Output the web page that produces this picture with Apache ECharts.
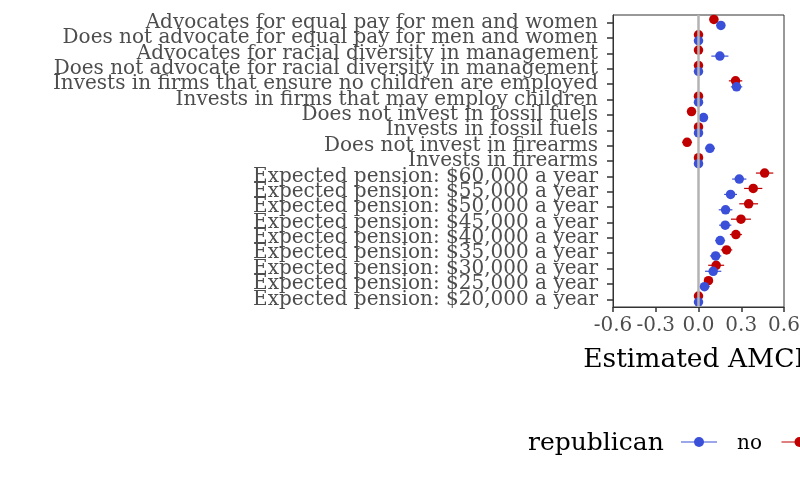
<!DOCTYPE html>
<html><head><meta charset="utf-8">
<script src="https://cdn.jsdelivr.net/npm/echarts@6/dist/echarts.min.js"></script>
<style>html,body{margin:0;padding:0;background:#fff;}#c{width:800px;height:494px;}</style>
</head><body><div id="c"></div>
<script>
var categories = [
  "Advocates for equal pay for men and women",
  "Does not advocate for equal pay for men and women",
  "Advocates for racial diversity in management",
  "Does not advocate for racial diversity in management",
  "Invests in firms that ensure no children are employed",
  "Invests in firms that may employ children",
  "Does not invest in fossil fuels",
  "Invests in fossil fuels",
  "Does not invest in firearms",
  "Invests in firearms",
  "Expected pension: $60,000 a year",
  "Expected pension: $55,000 a year",
  "Expected pension: $50,000 a year",
  "Expected pension: $45,000 a year",
  "Expected pension: $40,000 a year",
  "Expected pension: $35,000 a year",
  "Expected pension: $30,000 a year",
  "Expected pension: $25,000 a year",
  "Expected pension: $20,000 a year"
];
var noValues  = [0.157, 0, 0.15, 0, 0.267, 0, 0.035, 0, 0.08, 0, 0.286, 0.225, 0.19, 0.1875, 0.152, 0.12, 0.103, 0.042, 0];
var noCI      = [0.03, 0, 0.06, 0, 0.04, 0, 0.03, 0, 0.035, 0, 0.05, 0.045, 0.048, 0.043, 0.035, 0.04, 0.057, 0.037, 0];
var yesValues = [0.108, 0, 0, 0, 0.26, 0, -0.049, 0, -0.08, 0, 0.464, 0.384, 0.352, 0.298, 0.2625, 0.197, 0.124, 0.07, 0];
var yesCI     = [0.03, 0, 0, 0, 0.047, 0, 0.03, 0, 0.035, 0, 0.061, 0.064, 0.066, 0.07, 0.042, 0.04, 0.056, 0.03, 0];
var xTickLabels = ["-0.6", "-0.3", "0.0", "0.3", "0.6"];
var groupNames = ["no", "yes"];
var legendTitle = "republican";
var axisTitle = "Estimated AMCE";

var BLUE = "#3b50d8", RED = "#c00000";
var SERIF = "DejaVu Serif";
var chart = echarts.init(document.getElementById('c'), null, {renderer: 'canvas'});

function errData(vals, ci) {
  return vals.map(function (v, i) { return [v - ci[i], v + ci[i], i]; });
}
function errRender(offset, color) {
  return function (params, api) {
    var lo = api.coord([api.value(0), api.value(2)]);
    var hi = api.coord([api.value(1), api.value(2)]);
    return {
      type: 'line',
      shape: {x1: lo[0], y1: lo[1] + offset, x2: hi[0], y2: hi[1] + offset},
      style: {stroke: color, lineWidth: 1.2}
    };
  };
}
var OFF_YES = -3.3, OFF_NO = 2.7;

chart.setOption({
  animation: false,
  backgroundColor: '#fff',
  grid: {left: 613, right: 16, top: 15, bottom: 187, show: true, borderColor: '#333', borderWidth: 1,
         containLabel: false, outerBoundsMode: 'none'},
  xAxis: {
    type: 'value', min: -0.6, max: 0.6, interval: 0.3,
    splitLine: {show: false},
    axisLine: {show: true, onZero: false, lineStyle: {color: '#333', width: 1}},
    axisTick: {show: true, length: 5, lineStyle: {color: '#333', width: 1.5}},
    axisLabel: {margin: 9, color: '#4d4d4d', fontFamily: SERIF, fontSize: 20, hideOverlap: false,
      formatter: function (v) { var i = Math.round((v + 0.6) / 0.3); return xTickLabels[i]; }},
    name: axisTitle, nameLocation: 'middle', nameGap: 40,
    nameTextStyle: {color: '#000', fontFamily: SERIF, fontSize: 26.5}
  },
  yAxis: {
    type: 'category', data: categories, inverse: true,
    axisLine: {show: true, onZero: false, lineStyle: {color: '#333', width: 1}},
    axisTick: {show: true, length: 6, alignWithLabel: true, lineStyle: {color: '#333', width: 1.5}},
    axisLabel: {margin: 15, color: '#4d4d4d', fontFamily: SERIF, fontSize: 20, interval: 0, hideOverlap: false},
    splitLine: {show: false}
  },
  series: [
    {type: 'scatter', data: [], z: 1, silent: true,
     markLine: {silent: true, symbol: 'none', label: {show: false},
       lineStyle: {color: '#b3b3b3', width: 2.5, type: 'solid'}, data: [{xAxis: 0}]}},
    {type: 'custom', name: groupNames[1] + '_err', data: errData(yesValues, yesCI), renderItem: errRender(OFF_YES, RED), z: 2,
     encode: {x: [0, 1], y: 2}},
    {type: 'custom', name: groupNames[0] + '_err', data: errData(noValues, noCI), renderItem: errRender(OFF_NO, BLUE), z: 2,
     encode: {x: [0, 1], y: 2}},
    {type: 'scatter', name: groupNames[1], data: yesValues.map(function (v, i) { return [v, i]; }),
     symbol: 'circle', symbolSize: 9.5, symbolOffset: [0, OFF_YES], itemStyle: {color: RED, opacity: 1}, z: 3},
    {type: 'scatter', name: groupNames[0], data: noValues.map(function (v, i) { return [v, i]; }),
     symbol: 'circle', symbolSize: 9.5, symbolOffset: [0, OFF_NO], itemStyle: {color: BLUE, opacity: 1}, z: 4}
  ],
  graphic: [
    {type: 'text', x: 528, y: 443, style: {text: legendTitle, fill: '#000', font: '25px "DejaVu Serif"', verticalAlign: 'middle'}},
    {type: 'line', shape: {x1: 681, y1: 442, x2: 717, y2: 442}, style: {stroke: BLUE, lineWidth: 1.2}},
    {type: 'circle', shape: {cx: 699, cy: 442, r: 5}, style: {fill: BLUE}},
    {type: 'text', x: 737, y: 444, style: {text: groupNames[0], fill: '#000', font: '20px "DejaVu Serif"', verticalAlign: 'middle'}},
    {type: 'line', shape: {x1: 781.5, y1: 442, x2: 817.5, y2: 442}, style: {stroke: RED, lineWidth: 1.2}},
    {type: 'circle', shape: {cx: 799.5, cy: 442, r: 5}, style: {fill: RED}},
    {type: 'text', x: 837, y: 444, style: {text: groupNames[1], fill: '#000', font: '20px "DejaVu Serif"', verticalAlign: 'middle'}}
  ]
});
</script></body></html>
